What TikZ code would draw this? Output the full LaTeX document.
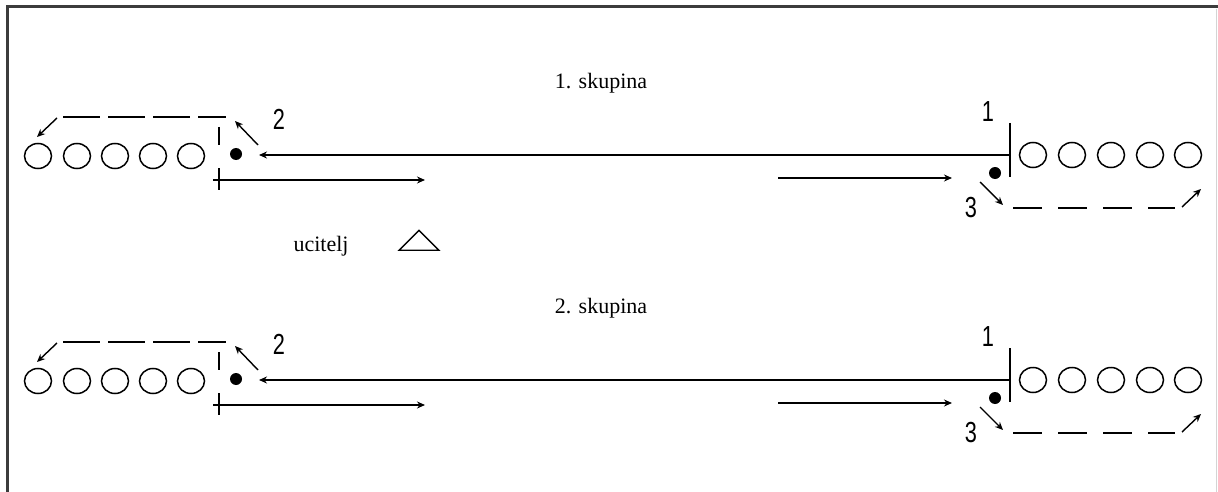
\documentclass[tikz,border=0pt]{standalone}
\usepackage{fontspec}
\setmainfont{Liberation Serif}
\newfontfamily\digitfont{Liberation Sans}
\usetikzlibrary{shapes.geometric,arrows.meta}
\definecolor{framegray}{HTML}{3C3C3C}
\definecolor{edgegray}{HTML}{D4D4D4}
\tikzset{
  ln/.style={line width=2pt},
  arr/.style={line width=2pt,-{Stealth[length=8pt,width=7pt]}},
  sarr/.style={line width=1.4pt,-{Stealth[length=8pt,width=7pt]}},
  dashln/.style={line width=2pt},
  player/.style={ellipse,draw,line width=1.5pt,minimum width=27pt,minimum height=25pt,inner sep=0pt},
  ball/.style={circle,fill,inner sep=0pt,minimum size=12pt},
  txt/.style={font=\fontsize{22}{24}\selectfont,inner sep=0pt},
  num/.style={font=\digitfont\fontsize{29}{30}\selectfont,inner sep=0pt},
}
\begin{document}
\begin{tikzpicture}[x=1pt,y=-1pt]
\useasboundingbox (0,0) rectangle (1218,492);
% frame
\draw[framegray,line width=3pt] (7,492) -- (7,7) -- (1218,7);
\draw[edgegray,line width=1pt] (1216,9) -- (1216,492);
% teacher
\node[txt,anchor=center] (ucitelj) at (321,246) {ucitelj};
\node[draw,isosceles triangle,isosceles triangle apex angle=90,shape border rotate=90,
      minimum width=40pt,minimum height=20pt,inner sep=0pt,line width=1.4pt] (teacher) at (419,242) {};
\foreach \g/\dy in {1/0,2/225}{
\begin{scope}[yshift=-\dy pt]
  \node[txt] (title\g) at (601,83) {\g. skupina};
  % left line of players
  \foreach \i/\x in {1/38,2/77,3/115,4/153,5/191}
    \node[player] (L\g\i) at (\x,156) {};
  % right line of players
  \foreach \i/\x in {1/1033,2/1072,3/1111,4/1150,5/1188}
    \node[player] (R\g\i) at (\x,155) {};
  % balls
  \node[ball] (lb\g) at (236,154) {};
  \node[ball] (rb\g) at (995,173) {};
  % labels
  \node[num] (n2\g) at (279,119) {\scalebox{0.75}[1]{2}};
  \node[num] (n1\g) at (988,112) {\scalebox{0.75}[1]{1}};
  \node[num] (n3\g) at (971,208) {\scalebox{0.75}[1]{3}};
  % left markers
  \coordinate (lva\g) at (219,127);
  \coordinate (lvb\g) at (219,145);
  \coordinate (lta\g) at (219,168);
  \coordinate (ltb\g) at (219,190);
  \draw[ln] (lva\g) -- (lvb\g);
  \draw[ln] (lta\g) -- (ltb\g);
  % right marker
  \coordinate (rva\g) at (1010,123);
  \coordinate (rvb\g) at (1010,177);
  \draw[ln] (rva\g) -- (rvb\g);
  % long return arrow
  \coordinate (longS\g) at (1010,155);
  \coordinate (longE\g) at (259,155);
  \draw[arr] (longS\g) -- (longE\g);
  % run arrows
  \coordinate (la\g) at (213,180);
  \coordinate (lae\g) at (425,180);
  \draw[arr] (la\g) -- (lae\g);
  \coordinate (ra\g) at (778,178);
  \coordinate (rae\g) at (952,178);
  \draw[arr] (ra\g) -- (rae\g);
  % left dashed return
  \coordinate (ld1\g) at (63,117);
  \coordinate (ld2\g) at (226,117);
  \draw[dashln,dash pattern=on 37pt off 8pt] (ld1\g) -- (ld2\g);
  \coordinate (lda\g) at (57,118);
  \coordinate (ldae\g) at (37,137);
  \draw[sarr] (lda\g) -- (ldae\g);
  \coordinate (lb2a\g) at (258,145);
  \coordinate (lb2e\g) at (235,121);
  \draw[sarr] (lb2a\g) -- (lb2e\g);
  % right dashed return
  \coordinate (rd1\g) at (1013,208);
  \coordinate (rd2\g) at (1175,208);
  \draw[dashln,dash pattern=on 29pt off 16pt] (rd1\g) -- (rd2\g);
  \coordinate (r3a\g) at (980,182);
  \coordinate (r3e\g) at (1003,205);
  \draw[sarr] (r3a\g) -- (r3e\g);
  \coordinate (rua\g) at (1182,207);
  \coordinate (rue\g) at (1201,189);
  \draw[sarr] (rua\g) -- (rue\g);
\end{scope}
}
\end{tikzpicture}
\end{document}
